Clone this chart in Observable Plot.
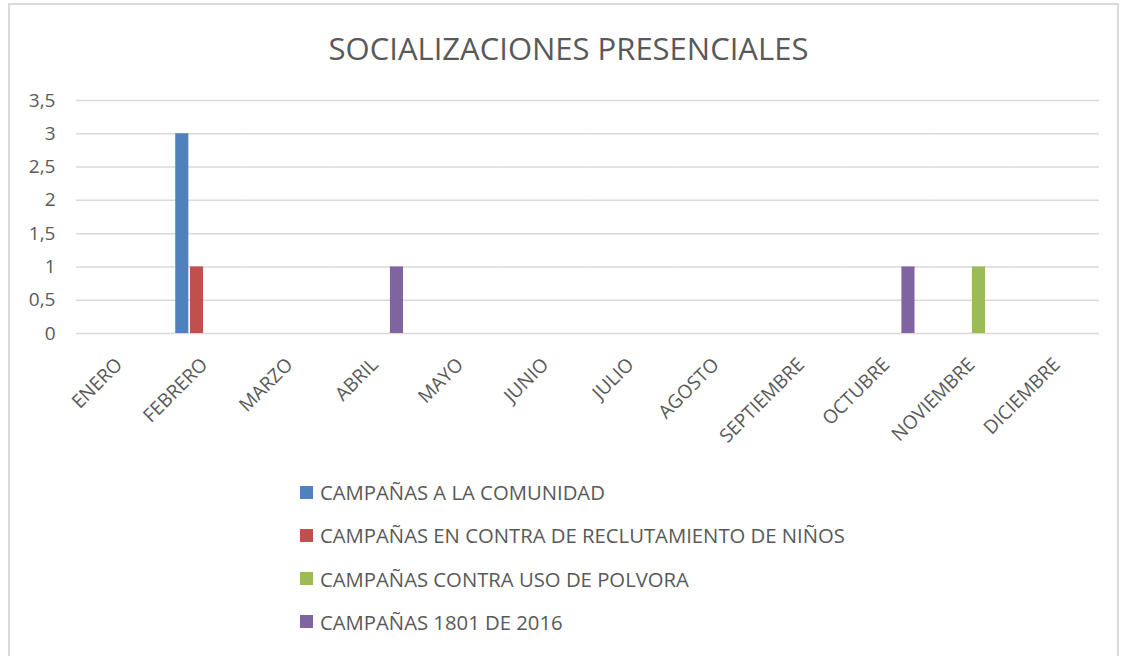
<!DOCTYPE html>
<html>
<head>
<meta charset="utf-8">
<script src="https://cdn.jsdelivr.net/npm/d3@7"></script>
<script src="https://cdn.jsdelivr.net/npm/@observablehq/plot@0.6"></script>
<style>
  html, body { margin: 0; padding: 0; background: #fff; }
  #wrap { position: relative; width: 1129px; height: 656px; overflow: hidden; font-family: "Open Sans", sans-serif; color: #595959; }
  #frame { position: absolute; left: 8px; top: 3px; width: 1107px; height: 700px; border: 2px solid #d9d9d9; }
  #title { position: absolute; left: 568.5px; top: 27px; transform: translateX(-50%); font-size: 31px; white-space: nowrap; line-height: 42px; }
  #chart { position: absolute; left: 0; top: 0; }
  #legend { position: absolute; left: 300px; top: 478px; }
  .item { display: flex; align-items: center; height: 28px; margin-bottom: 15.3px; font-size: 20.3px; white-space: nowrap; }
  .sw { width: 13px; height: 13px; margin-right: 7px; flex: none; }
</style>
</head>
<body>
<div id="wrap">
  <div id="frame"></div>
  <div id="title"></div>
  <div id="chart"></div>
  <div id="legend"></div>
</div>
<script>
const titleText = "SOCIALIZACIONES PRESENCIALES";
const months = ["ENERO","FEBRERO","MARZO","ABRIL","MAYO","JUNIO","JULIO","AGOSTO","SEPTIEMBRE","OCTUBRE","NOVIEMBRE","DICIEMBRE"];
const series = ["CAMPAÑAS A LA COMUNIDAD","CAMPAÑAS EN CONTRA DE RECLUTAMIENTO DE NIÑOS","CAMPAÑAS CONTRA USO DE POLVORA","CAMPAÑAS 1801 DE 2016"];
const comunidad      = [0,3,0,0,0,0,0,0,0,0,0,0];
const reclutamiento  = [0,1,0,0,0,0,0,0,0,0,0,0];
const polvora        = [0,0,0,0,0,0,0,0,0,0,1,0];
const campanas1801   = [0,0,0,1,0,0,0,0,0,1,0,0];
const colors = ["#4F81BD","#C0504D","#9BBB59","#8064A2"];
const yTicks = [0,0.5,1,1.5,2,2.5,3,3.5];

const seriesValues = [comunidad, reclutamiento, polvora, campanas1801];
const data = [];
months.forEach((m, i) => {
  series.forEach((s, j) => data.push({month: m, series: s, value: seriesValues[j][i]}));
});

document.getElementById("title").textContent = titleText;

const chart = Plot.plot({
  width: 1129,
  height: 463,
  marginLeft: 76,
  marginRight: 30,
  marginTop: 100,
  marginBottom: 130,
  style: {fontFamily: "'Open Sans', sans-serif", fontSize: "19px", color: "#595959", background: "transparent", overflow: "visible"},
  fx: {domain: months, padding: 0, round: false, label: null, tickRotate: -45, tickSize: 0, tickPadding: 28},
  x: {domain: series, paddingInner: 0.11, paddingOuter: 0.95, round: false, axis: null},
  y: {domain: [0, 3.5], ticks: yTicks, tickFormat: d => String(d).replace(".", ","), label: null, tickSize: 0, tickPadding: 21},
  color: {domain: series, range: colors},
  marks: [
    Plot.ruleY(yTicks, {stroke: "#d9d9d9", strokeWidth: 1.5}),
    Plot.barY(data, {fx: "month", x: "series", y: "value", fill: "series"})
  ]
});
document.getElementById("chart").appendChild(chart);

const legend = document.getElementById("legend");
series.forEach((s, j) => {
  const it = document.createElement("div");
  it.className = "item";
  const sw = document.createElement("span");
  sw.className = "sw";
  sw.style.background = colors[j];
  const tx = document.createElement("span");
  tx.textContent = s;
  it.appendChild(sw); it.appendChild(tx);
  legend.appendChild(it);
});
</script>
</body>
</html>
